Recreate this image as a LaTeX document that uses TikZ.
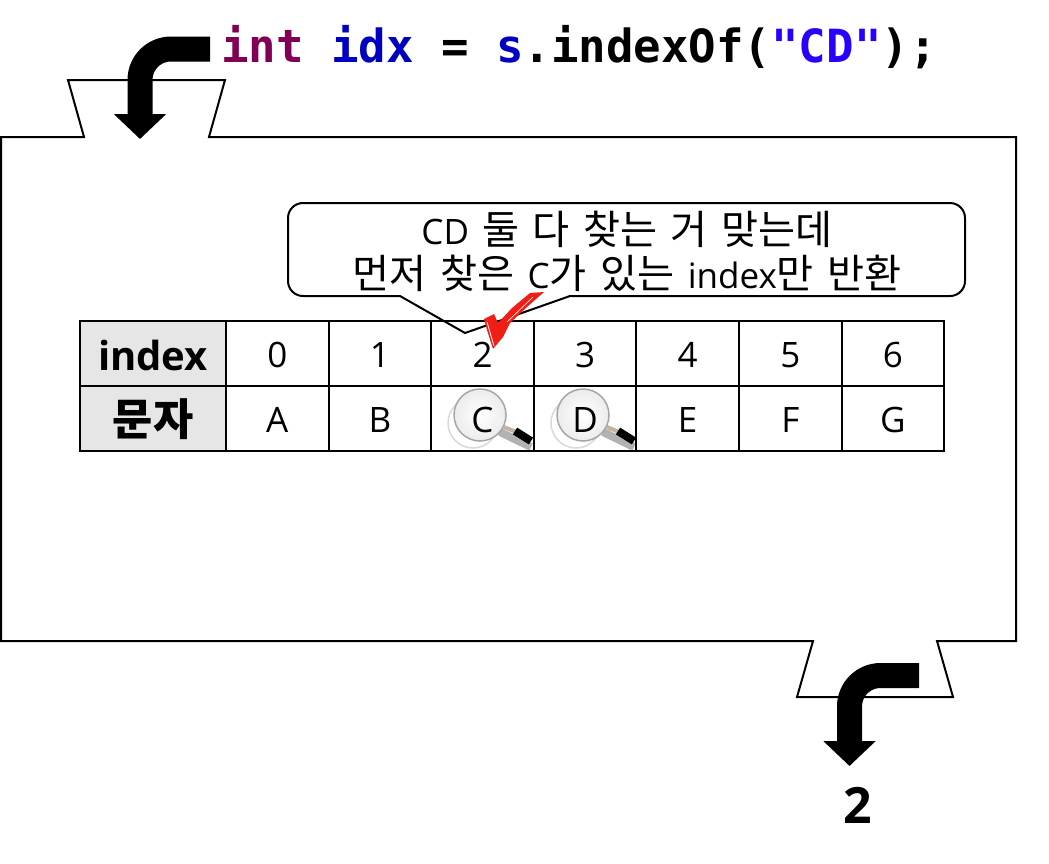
\documentclass[tikz,border=0pt]{standalone}
\usepackage{fontspec}
\setmainfont{Open Sans}
\setmonofont{DejaVu Sans Mono}
\newfontfamily\kr[Scale=1.15,WordSpace=1.5]{Noto Sans CJK KR}
\usetikzlibrary{arrows.meta}
\definecolor{keyword}{HTML}{7F0055}
\definecolor{variable}{HTML}{0000C0}
\definecolor{literal}{HTML}{2A00FF}
\definecolor{headgray}{HTML}{E6E6E6}
\definecolor{checkred}{HTML}{F01E14}
\tikzset{
  cell/.style={draw=black, line width=2pt, inner sep=0pt, minimum width=102.6pt, minimum height=65pt, text height=28pt, text depth=0pt, font=\fontsize{35}{35}\selectfont},
  headcell/.style={cell, fill=headgray, minimum width=146pt, text height=33pt, font=\fontsize{40}{40}\selectfont\bfseries},
  bigarrow/.style={line width=25pt, rounded corners=31pt, -{Triangle[width=51pt,length=25pt]}},
  lens/.pic={
    \draw[gray!60, line width=8pt] (20,17) -- (51,32);
    \draw[gray!30, fill=white, line width=1.5pt] (-7,8) circle (25);
    \draw[gray!50!brown!60, line width=4pt] (24,12) -- (36,17);
    \draw[black, line width=8pt] (35,16) -- (51,26);
    \shade[inner color=white, outer color=gray!15, draw=gray!70, line width=1.5pt] (0,0) circle (26);
  }
}
\begin{document}
\begin{tikzpicture}[x=1pt, y=-1pt]
\useasboundingbox (0,0) rectangle (1049,863);
\coordinate (entry) at (210,49);
\coordinate (entrytip) at (140,139);
\coordinate (exit) at (919,675.5);
\coordinate (exittip) at (849.5,766);
\draw[line width=2pt, fill=white, line join=miter] (1,137) -- (84,137) -- (68,80) -- (225,80) -- (209,137) -- (1016,137)
  -- (1016,641) -- (937,641) -- (953,697) -- (797,697) -- (813,641) -- (1,641) -- cycle;
\draw[bigarrow] (entry) -| (entrytip);
\draw[bigarrow] (exit) -| (exittip);
\node[anchor=west, inner sep=0pt, font=\fontsize{45.7}{45.7}\selectfont\ttfamily\bfseries] (code) at (221,47)
  {\textcolor{keyword}{int} \textcolor{variable}{idx} = \textcolor{variable}{s}.indexOf(\textcolor{literal}{"CD"});};
\node[inner sep=0pt, font=\fontsize{50}{50}\selectfont\bfseries] (result) at (858,805) {2};
\draw[line width=2pt, fill=white] (400,296) -- (465,333) -- (570,296)
  [rounded corners=15pt] -- (965,296) -- (965,203) -- (288,203) -- (288,296) -- (400,296);
\node[align=center, inner sep=0pt, font=\fontsize{35}{44}\selectfont] (bubble) at (627,251)
  {CD\hspace{4pt} {\kr 둘 다 찾는 거 맞는데}\\{\kr 먼저 찾은 }C{\kr 가 있는 }index{\kr 만 반환}};
\pic at (480,415) {lens};
\pic at (583,415) {lens};
\node[headcell] (indexhead) at (153,353.5) {index};
\node[headcell, font=\fontsize{38}{38}\selectfont\bfseries] (charhead) at (153,418.5) {\kr 문자};
\foreach \i/\ch in {0/A,1/B,2/C,3/D,4/E,5/F,6/G} {
  \pgfmathsetmacro{\cx}{277.3+102.6*\i}
  \node[cell] (index\i) at (\cx,353.5) {\i};
  \node[cell] (char\i) at (\cx,418.5) {\ch};
}
\fill[checkred] (484,319) -- (494,314) -- (498,323) -- (512,308) -- (530,293) -- (544,292) -- (527,307) -- (510,323)
  -- (503,337) -- (493,349) -- (487,330) -- cycle;
\draw[white, line width=0.8pt] (487,322) -- (494,346);
\draw[white, line width=0.6pt] (507,322) -- (533,297);
\end{tikzpicture}
\end{document}
